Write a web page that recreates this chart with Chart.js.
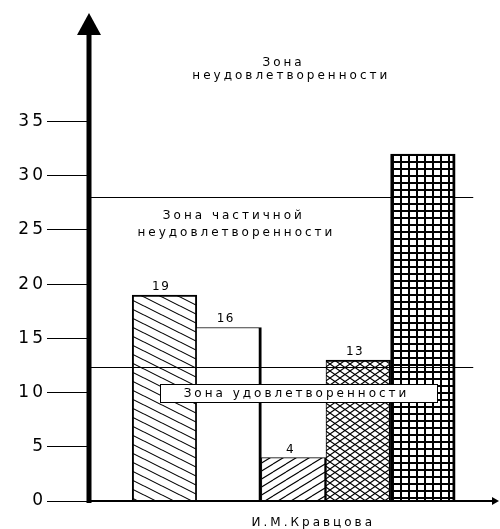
<!DOCTYPE html>
<html>
<head>
<meta charset="utf-8">
<script src="https://cdn.jsdelivr.net/npm/chart.js@4"></script>
<style>
html, body { margin: 0; padding: 0; background: #fff; }
</style>
</head>
<body>
<canvas id="zonesCanvas" width="500" height="529"></canvas>
<script>
// Bars (positions along the x scale) and their heights.
var groups = [0, 1, 2, 3, 4];
var values = [19, 16, 4, 13, 32];
var valueLabels = ['19', '16', '4', '13', ''];
var tickValues = [0, 5, 10, 15, 20, 25, 30, 35];
// Borders of the zones.
var zoneLimits = [12.4, 28];
var zoneTitles = [['Зона', 'неудовлетворенности'], ['Зона частичной', 'неудовлетворенности'], ['Зона удовлетворенности']];
var author = 'И.М.Кравцова';

var canvas = document.getElementById('zonesCanvas');
var ctx = canvas.getContext('2d');

function makePattern(w, h, draw) {
    var c = document.createElement('canvas');
    c.width = w;
    c.height = h;
    var g = c.getContext('2d');
    g.fillStyle = '#fff';
    g.fillRect(0, 0, w, h);
    g.strokeStyle = '#000';
    g.fillStyle = '#000';
    g.lineWidth = 1.1;
    draw(g, w, h);
    return ctx.createPattern(c, 'repeat');
}

// "\\\" hatch
var hatchDown = makePattern(18, 9, function (g, w, h) {
    g.beginPath();
    for (var k = -1; k <= 1; k++) {
        g.moveTo(0, h * k);
        g.lineTo(w, h * k + h);
    }
    g.stroke();
});
// "///" hatch
var hatchUp = makePattern(13, 8, function (g, w, h) {
    g.beginPath();
    for (var k = -1; k <= 1; k++) {
        g.moveTo(0, h + h * k);
        g.lineTo(w, h * k);
    }
    g.stroke();
});
// diamonds
var hatchCross = makePattern(10, 7, function (g, w, h) {
    g.beginPath();
    g.moveTo(0, 0); g.lineTo(w, h);
    g.moveTo(0, h); g.lineTo(w, 0);
    g.stroke();
});
// square grid
var hatchGrid = makePattern(8, 7, function (g, w, h) {
    g.fillRect(0, 0, w, 2);
    g.fillRect(0, 0, 2, h);
});

var fills = [hatchDown, '#fff', hatchUp, hatchCross, hatchGrid];
var borders = [
    {top: 2, left: 2, right: 2, bottom: 0},
    {top: 1, left: 0, right: 3, bottom: 0},
    {top: 1, left: 1, right: 2, bottom: 0},
    {top: 2, left: 1, right: 2, bottom: 0},
    {top: 2, left: 3, right: 3, bottom: 0}
];

var textFont = '12px "DejaVu Sans", sans-serif';

function spaced(c, text, x, y, align, spacing) {
    c.letterSpacing = spacing + 'px';
    c.textAlign = align;
    c.fillText(text, x + (align === 'center' ? spacing / 2 : 0), y);
}

var zonesPlugin = {
    id: 'zones',
    beforeDraw: function (chart) {
        chart.ctx.letterSpacing = '3px';
    },
    afterDatasetsDraw: function (chart) {
        var c = chart.ctx;
        var xs = chart.scales.x;
        var ys = chart.scales.y;
        var area = chart.chartArea;
        c.save();

        // zone borders
        c.strokeStyle = '#000';
        c.lineWidth = 1;
        zoneLimits.forEach(function (v) {
            var y = Math.round(ys.getPixelForValue(v)) + 0.5;
            c.beginPath();
            c.moveTo(area.left, y);
            c.lineTo(xs.getPixelForValue(4.78), y);
            c.stroke();
        });

        // values over the bars
        c.fillStyle = '#000';
        c.font = textFont;
        c.textBaseline = 'alphabetic';
        chart.getDatasetMeta(0).data.forEach(function (bar, i) {
            if (valueLabels[i]) {
                spaced(c, valueLabels[i], bar.x - 4, bar.y - 5, 'center', 1.5);
            }
        });

        c.textBaseline = 'middle';
        // upper zone
        var y1 = ys.getPixelForValue(40.4);
        spaced(c, zoneTitles[0][0], xs.getPixelForValue(1.82), y1, 'center', 3);
        spaced(c, zoneTitles[0][1], xs.getPixelForValue(1.94), y1 + 13, 'center', 3);
        // middle zone
        var y2 = ys.getPixelForValue(26.3);
        spaced(c, zoneTitles[1][0], xs.getPixelForValue(1.05), y2, 'center', 3);
        spaced(c, zoneTitles[1][1], xs.getPixelForValue(1.09), y2 + 17, 'center', 3);

        // lower zone, in a box
        var bx1 = Math.round(xs.getPixelForValue(-0.07)) + 0.5;
        var bx2 = Math.round(xs.getPixelForValue(4.22)) + 0.5;
        var by = Math.round(ys.getPixelForValue(10)) - 9 + 0.5;
        c.fillStyle = '#fff';
        c.fillRect(bx1, by, bx2 - bx1, 18);
        c.strokeRect(bx1, by, bx2 - bx1, 18);
        c.fillStyle = '#000';
        spaced(c, zoneTitles[2][0], (bx1 + bx2) / 2 - 4, by + 9.5, 'center', 3);

        // axes with arrows
        c.fillStyle = '#000';
        c.fillRect(area.left - 2.5, area.top + 18, 5, area.bottom - area.top - 16);
        c.beginPath();
        c.moveTo(area.left, area.top);
        c.lineTo(area.left + 12, area.top + 22);
        c.lineTo(area.left - 12, area.top + 22);
        c.closePath();
        c.fill();
        c.fillRect(area.left, area.bottom - 1, area.right - area.left - 3, 2);
        c.beginPath();
        c.moveTo(area.right + 1, area.bottom);
        c.lineTo(area.right - 6, area.bottom - 4);
        c.lineTo(area.right - 6, area.bottom + 4);
        c.closePath();
        c.fill();

        // author
        spaced(c, author, xs.getPixelForValue(2.28), area.bottom + 22, 'center', 3);
        c.restore();
    },
    afterDraw: function (chart) {
        chart.ctx.letterSpacing = '0px';
    }
};

var chart = new Chart(ctx, {
    type: 'bar',
    data: {
        datasets: [{
            data: groups.map(function (g, i) { return {x: g, y: values[i]}; }),
            backgroundColor: fills,
            borderColor: '#000',
            borderWidth: function (c) { return borders[c.dataIndex]; },
            categoryPercentage: 1,
            barPercentage: 1
        }]
    },
    options: {
        responsive: false,
        animation: false,
        devicePixelRatio: 1,
        events: [],
        layout: {padding: {left: 0, right: 2, top: 13, bottom: 28}},
        plugins: {
            legend: {display: false},
            tooltip: {enabled: false}
        },
        scales: {
            x: {
                type: 'linear',
                min: -1.169,
                max: 5.163,
                offset: false,
                display: false
            },
            y: {
                min: 0,
                max: 45,
                afterBuildTicks: function (s) {
                    s.ticks = tickValues.map(function (v) { return {value: v}; });
                },
                afterFit: function (s) {
                    s.width = 89;
                },
                border: {display: false},
                grid: {
                    drawOnChartArea: false,
                    drawTicks: true,
                    tickLength: 42,
                    color: '#000',
                    lineWidth: 1
                },
                ticks: {
                    padding: 1,
                    color: '#000',
                    font: {family: 'DejaVu Sans', size: 17}
                }
            }
        }
    },
    plugins: [zonesPlugin]
});
</script>
</body>
</html>
